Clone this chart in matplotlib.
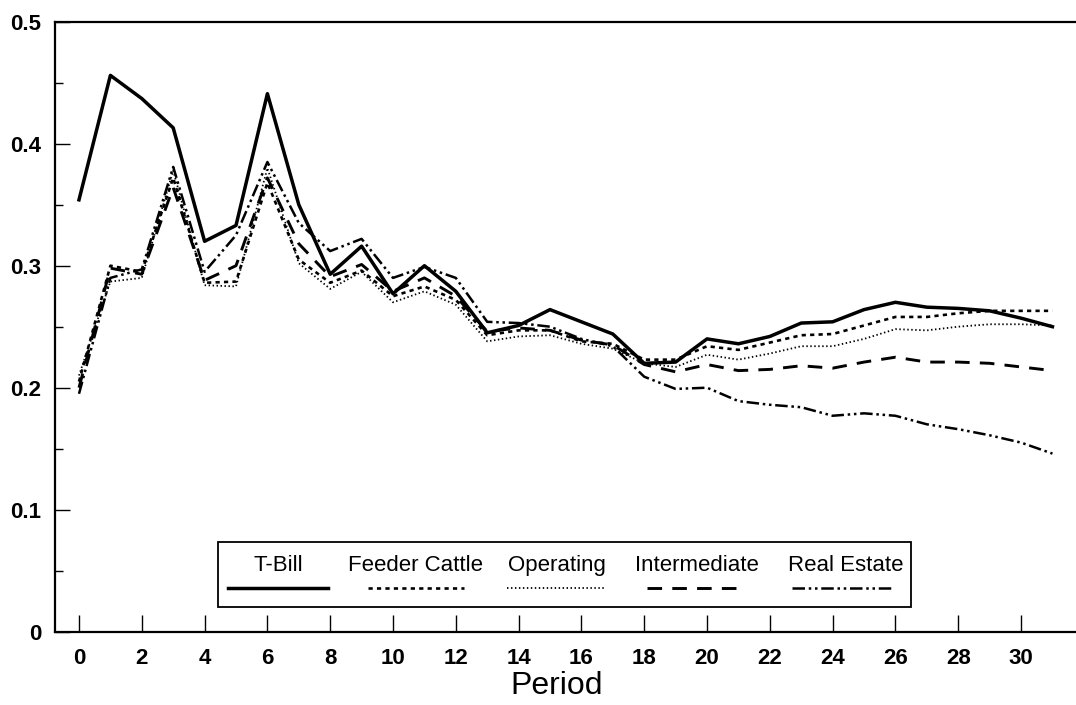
import matplotlib
matplotlib.use("Agg")
import matplotlib.pyplot as plt
from matplotlib.ticker import MultipleLocator, FixedLocator
from matplotlib.patches import Rectangle

periods = list(range(32))
tbill = [0.354, 0.456, 0.437, 0.413, 0.320, 0.333, 0.441, 0.350, 0.293, 0.316,
         0.277, 0.300, 0.279, 0.245, 0.251, 0.264, 0.254, 0.244, 0.220, 0.221,
         0.240, 0.236, 0.242, 0.253, 0.254, 0.264, 0.270, 0.266, 0.265, 0.263,
         0.257, 0.250]
feeder_cattle = [0.205, 0.300, 0.295, 0.372, 0.286, 0.287, 0.368, 0.305, 0.286, 0.296,
                 0.275, 0.283, 0.272, 0.243, 0.247, 0.247, 0.238, 0.236, 0.223, 0.223,
                 0.234, 0.231, 0.237, 0.243, 0.244, 0.251, 0.258, 0.258, 0.261, 0.263,
                 0.263, 0.263]
operating = [0.210, 0.287, 0.290, 0.378, 0.284, 0.283, 0.380, 0.302, 0.281, 0.295,
             0.270, 0.279, 0.268, 0.238, 0.242, 0.243, 0.236, 0.232, 0.220, 0.217,
             0.227, 0.223, 0.228, 0.234, 0.234, 0.240, 0.248, 0.247, 0.250, 0.252,
             0.252, 0.251]
intermediate = [0.200, 0.298, 0.293, 0.364, 0.288, 0.300, 0.372, 0.318, 0.291, 0.301,
                0.279, 0.290, 0.275, 0.246, 0.249, 0.247, 0.239, 0.235, 0.219, 0.213,
                0.219, 0.214, 0.215, 0.218, 0.216, 0.221, 0.225, 0.221, 0.221, 0.220,
                0.217, 0.214]
real_estate = [0.195, 0.290, 0.297, 0.381, 0.295, 0.325, 0.385, 0.335, 0.312, 0.322,
               0.290, 0.299, 0.290, 0.254, 0.253, 0.250, 0.240, 0.234, 0.209, 0.199,
               0.200, 0.189, 0.186, 0.184, 0.177, 0.179, 0.177, 0.170, 0.166, 0.161,
               0.155, 0.146]

labels = ["T-Bill", "Feeder Cattle", "Operating", "Intermediate", "Real Estate"]
x_ticks = list(range(0, 31, 2))
y_ticks = [0, 0.1, 0.2, 0.3, 0.4, 0.5]
y_tick_labels = ["0", "0.1", "0.2", "0.3", "0.4", "0.5"]

styles = [
    dict(ls="-", lw=2.5),
    dict(ls=(0, (1.6, 1.6)), lw=1.9),
    dict(ls=(0, (0.8, 1.4)), lw=1.3),
    dict(ls=(0, (5, 3.5)), lw=2.1),
    dict(ls=(0, (5, 1.5, 1, 1.5, 1, 1.5)), lw=1.8),
]
series = [tbill, feeder_cattle, operating, intermediate, real_estate]

plt.rcParams['font.family'] = ['Liberation Sans', 'DejaVu Sans']
fig = plt.figure(figsize=(10.76, 7.05), dpi=100)
ax = fig.add_axes([55/1076, 73.3/705, 1 - 55/1076, (631.7 - 21.7)/705])

for vals, st in zip(series, styles):
    ax.plot(periods, vals, color="black", **st)

ax.set_xlim(-0.764, 31.75)
ax.set_ylim(0, 0.5)
ax.xaxis.set_major_locator(FixedLocator(x_ticks))
ax.set_yticks(y_ticks)
ax.set_yticklabels(y_tick_labels)
ax.yaxis.set_minor_locator(MultipleLocator(0.05))

ax.tick_params(axis="y", which="major", direction="in", length=11, width=1.0,
               pad=10, labelsize=16)
ax.tick_params(axis="y", which="minor", direction="in", length=5.5, width=1.0)
ax.tick_params(axis="x", which="major", direction="in", length=12, width=1.0,
               pad=12, labelsize=16)
for lab in ax.get_xticklabels() + ax.get_yticklabels():
    lab.set_fontweight("bold")

for s in ["left", "bottom", "top"]:
    ax.spines[s].set_linewidth(1.6)
ax.spines["right"].set_visible(False)

ax.set_xlabel("Period", fontsize=23, labelpad=1)
ax.xaxis.label.set_x((557 - 55) / 1021)

# legend box (manual, text above line samples)
def px2ax(x, y):
    return ((x - 55) / 1021, (631.7 - y) / 610)

x0, y0 = px2ax(218, 607)
x1, y1 = px2ax(911, 542)
ax.add_patch(Rectangle((x0, y0), x1 - x0, y1 - y0, transform=ax.transAxes,
                       fill=True, facecolor="white", edgecolor="black", lw=1.3,
                       zorder=5))
text_centers = [278, 416, 557, 697, 846]
samples = [(228, 328), (368, 464), (507, 606), (647, 737), (792, 893)]
for lab, cx, (sa, sb), st in zip(labels, text_centers, samples, styles):
    tx, ty = px2ax(cx, 571)
    ax.text(tx, ty, lab, transform=ax.transAxes, ha="center", va="baseline",
            fontsize=16, zorder=6)
    ax_a, ay = px2ax(sa, 588)
    ax_b, _ = px2ax(sb, 588)
    ax.plot([ax_a, ax_b], [ay, ay], transform=ax.transAxes, color="black",
            zorder=6, **st)

fig.savefig("out.png", dpi=100)
